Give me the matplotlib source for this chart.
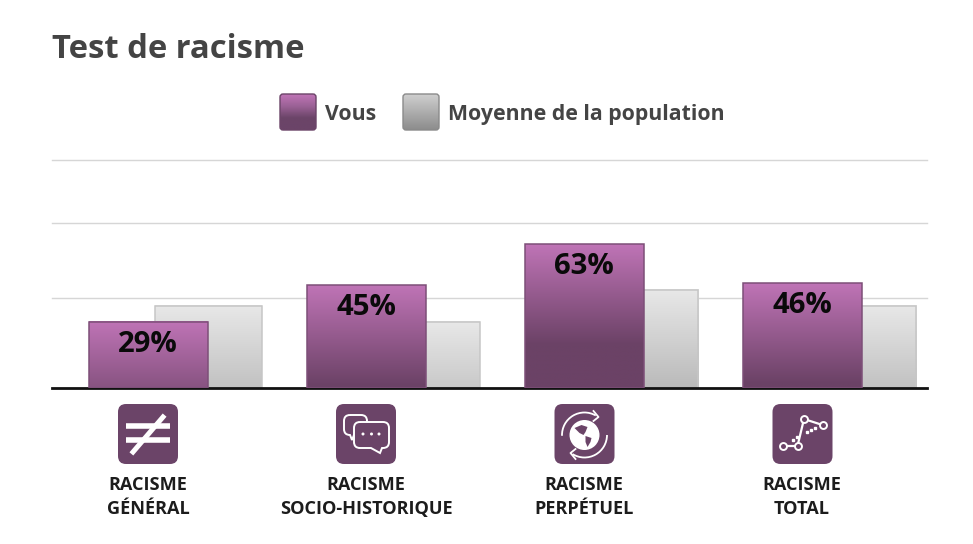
import numpy as np
import matplotlib
matplotlib.use('Agg')
import matplotlib.pyplot as plt
from matplotlib.colors import LinearSegmentedColormap
from matplotlib.patches import FancyBboxPatch, Circle, Arc, Polygon, PathPatch
from matplotlib.path import Path

plt.rcParams['font.family'] = ['Open Sans', 'DejaVu Sans']

categories = ['RACISME\nGÉNÉRAL', 'RACISME\nSOCIO-HISTORIQUE', 'RACISME\nPERPÉTUEL', 'RACISME\nTOTAL']
vous = [29, 45, 63, 46]
moyenne = [36, 29, 43, 36]
grid_vals = [39.5, 72.4, 100]
series_names = ['Vous', 'Moyenne de la population']

PURPLE = LinearSegmentedColormap.from_list('p', ['#bf74b6', '#6b4266'])
GREY = LinearSegmentedColormap.from_list('g', ['#e8e8e8', '#b9b9b9'])
ICON = '#6b4468'

W, H = 973, 544
fig = plt.figure(figsize=(W / 100, H / 100), dpi=100)

# main axes, pixel box 52..927 / 160..388
ax = fig.add_axes([52 / W, 1 - 388 / H, 875 / W, 228 / H])
for s in ['top', 'left', 'right']:
    ax.spines[s].set_visible(False)
ax.spines['bottom'].set_linewidth(2)
ax.spines['bottom'].set_color('#111111')
ax.set_yticks(grid_vals)
ax.set_yticklabels([])
ax.tick_params(axis='y', length=0)
ax.grid(axis='y', color='#d6d6d6', lw=1.0, clip_on=False)
ax.set_axisbelow(True)

x = np.arange(4)
w_v = 119 / 218
w_m = 107 / 218
off = 60 / 218


def grad_bar(xc, val, width, cmap, edge, zo):
    # gradient runs over a fixed span from the top of the bar, then stays flat
    g = np.clip(np.linspace(0, val / 44, 256), 0, 1).reshape(-1, 1)
    ax.imshow(g, extent=[xc - width / 2, xc + width / 2, 0, val], aspect='auto',
              cmap=cmap, vmin=0, vmax=1, zorder=zo, origin='upper')
    ax.bar(xc, val, width, facecolor='none', edgecolor=edge, lw=1.1, zorder=zo + 0.1)


for i in x:
    grad_bar(i + off, moyenne[i], w_m, GREY, '#c6c6c6', 2)
for i in x:
    grad_bar(i, vous[i], w_v, PURPLE, '#7d4f78', 3)
    ax.text(i, vous[i] - 3.4, f'{vous[i]}%', ha='center', va='top', fontsize=21.2,
            fontweight='bold', color='#0a0a0a', zorder=5)

ax.set_xlim(-96 / 218, -96 / 218 + 875 / 218)
ax.set_ylim(0, 100)
ax.set_xticks(x)
ax.set_xticklabels(categories, fontsize=13.1, fontweight='bold', color='#1c1c1c', linespacing=1.44)
ax.tick_params(axis='x', length=0, pad=63)

# overlay in pixel coordinates for title, legend and icons
ov = fig.add_axes([0, 0, 1, 1], zorder=10)
ov.axis('off')
ov.patch.set_alpha(0)

ov.text(52, 49.5, 'Test de racisme', fontsize=23.6, fontweight='bold', color='#444444', va='center')


def swatch(x0, cols, edge):
    y0, y1 = 94, 130
    cm = LinearSegmentedColormap.from_list('s', cols)
    im = ov.imshow(np.linspace(0, 1, 64).reshape(-1, 1), extent=[x0, x0 + 36, y1, y0],
                   aspect='auto', cmap=cm, origin='upper', zorder=2)
    box = FancyBboxPatch((x0 + 3, y0 + 3), 30, 30, boxstyle='round,pad=3,rounding_size=3',
                         fc='none', ec=edge, lw=1, zorder=3)
    ov.add_patch(box)
    im.set_clip_path(box)


swatch(280, ['#bf74b6', '#9b6296', '#6b4468', '#6b4468'], '#6b4468')
swatch(403, ['#cfcfcf', '#8c8c8c'], '#8a8a8a')
ov.text(325, 120, series_names[0], fontsize=15.3, fontweight='bold', color='#444444', va='baseline')
ov.text(448, 120, series_names[1], fontsize=15.3, fontweight='bold', color='#444444', va='baseline')

icon_cx = [148, 366, 584.5, 802.5]
icon_cy = 434
for cx in icon_cx:
    ov.add_patch(FancyBboxPatch((cx - 24, icon_cy - 24), 48, 48, boxstyle='round,pad=6,rounding_size=8',
                                fc=ICON, ec='none', zorder=2))

# not-equal icon
cx = icon_cx[0]
ov.plot([cx - 22, cx + 22], [icon_cy - 8, icon_cy - 8], color='white', lw=4, solid_capstyle='butt', zorder=3)
ov.plot([cx - 22, cx + 22], [icon_cy + 6, icon_cy + 6], color='white', lw=4, solid_capstyle='butt', zorder=3)
ov.plot([cx - 15, cx + 15], [icon_cy + 18, icon_cy - 17], color='white', lw=3.6, zorder=3)


# speech bubbles icon
def bubble(x0, y0, x1, y1, tail, fc):
    r = 6
    verts = [(x0 + r, y0), (x1 - r, y0), (x1, y0), (x1, y0 + r), (x1, y1 - r), (x1, y1), (x1 - r, y1),
             tail[0], tail[1], tail[2], (x0 + r, y1), (x0, y1), (x0, y1 - r), (x0, y0 + r), (x0, y0), (x0 + r, y0)]
    codes = [Path.MOVETO, Path.LINETO, Path.CURVE3, Path.CURVE3, Path.LINETO, Path.CURVE3, Path.CURVE3,
             Path.LINETO, Path.LINETO, Path.LINETO, Path.LINETO, Path.CURVE3, Path.CURVE3, Path.LINETO,
             Path.CURVE3, Path.CURVE3]
    ov.add_patch(PathPatch(Path(verts, codes), fc=fc, ec='white', lw=1.4, zorder=3))


cx = icon_cx[1]
bubble(cx - 22, icon_cy - 19, cx + 1, icon_cy + 1, [(cx - 12, icon_cy + 1), (cx - 14, icon_cy + 6), (cx - 16, icon_cy + 1)], ICON)
bubble(cx - 12, icon_cy - 12, cx + 23, icon_cy + 14, [(cx + 16, icon_cy + 14), (cx + 14, icon_cy + 19), (cx + 5, icon_cy + 14)], ICON)
for d in [-3, 5.5, 13]:
    ov.add_patch(Circle((cx + d, icon_cy), 1.5, fc='white', ec='none', zorder=4))

# globe with arrows icon
cx = icon_cx[2]
gy = icon_cy + 1
ov.add_patch(Circle((cx, gy), 15, fc='white', ec='none', zorder=3))
ov.add_patch(Polygon([(cx - 10, gy - 7), (cx - 3, gy - 10), (cx + 3, gy - 8), (cx + 1, gy - 3), (cx - 1, gy + 0), (cx - 5, gy - 2)],
                     fc=ICON, ec='none', zorder=4))
ov.add_patch(Polygon([(cx + 1, gy + 1), (cx + 7, gy + 3), (cx + 6, gy + 7), (cx + 3, gy + 12), (cx + 1, gy + 7)],
                     fc=ICON, ec='none', zorder=4))
ov.add_patch(Arc((cx, gy), 45, 45, theta1=178, theta2=300, ec='white', lw=1.3, zorder=3))
ov.add_patch(Arc((cx, gy), 45, 45, theta1=0, theta2=122, ec='white', lw=1.3, zorder=3))
ov.plot([cx + 9, cx + 14, cx + 9], [gy - 24, gy - 18, gy - 14], color='white', lw=1.3, zorder=3)
ov.plot([cx - 9, cx - 14, cx - 9], [gy + 24, gy + 18, gy + 14], color='white', lw=1.3, zorder=3)

# line-chart icon
cx = icon_cx[3]
pts = np.array([(-20, 12), (-5, 12), (1.5, -15), (20, -9)], dtype=float)
ov.plot(cx + pts[:, 0], icon_cy + pts[:, 1], color='white', lw=1.6, zorder=3)
ov.plot(cx + pts[:, 0], icon_cy + pts[:, 1], 'o', ms=5, mfc=ICON, mec='white', mew=1.4, zorder=4)
ov.plot(cx + np.array([-10, -6, 4, 8, 12]), icon_cy + np.array([6, 3, -2, -4, -6]), 's', ms=1.5, color='white', zorder=3)

ov.set_xlim(0, W)
ov.set_ylim(H, 0)

fig.savefig('out.png', dpi=100, facecolor='white')
